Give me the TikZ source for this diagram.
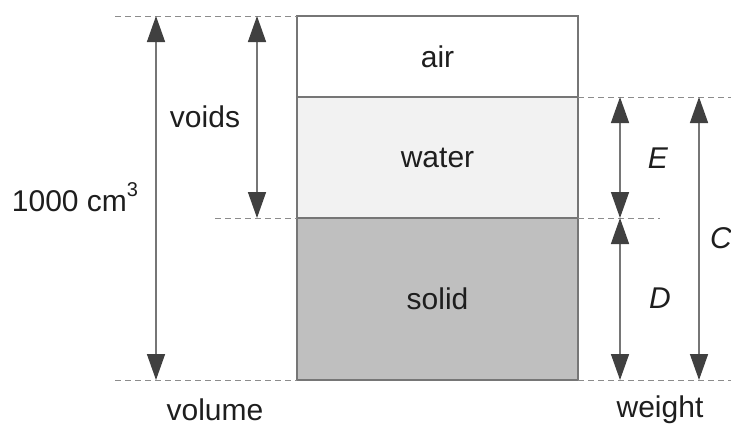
\documentclass[tikz,border=0pt]{standalone}
\usepackage{fontspec}
\setmainfont{Liberation Sans}
\usetikzlibrary{arrows.meta}
\definecolor{linegray}{HTML}{767676}
\definecolor{tipgray}{HTML}{404040}
\definecolor{dashgray}{HTML}{8C8C8C}
\definecolor{watergray}{HTML}{F2F2F2}
\definecolor{solidgray}{HTML}{BFBFBF}
\definecolor{textgray}{HTML}{1E1E1E}
\tikzset{
  tip/.tip={Triangle[length=13pt, width=9pt, color=tipgray]},
  dim/.style={linegray, line width=0.75pt, tip-tip},
  guide/.style={dashgray, line width=0.5pt, dash pattern=on 3pt off 2pt},
  layer/.style={draw=linegray, line width=0.75pt, anchor=north west,
    minimum width=140.5pt, inner sep=0pt, outer sep=0pt, text=textgray},
  label/.style={text=textgray},
}
\begin{document}
\begin{tikzpicture}[x=0.5pt, y=-0.5pt, font=\fontsize{15}{18}\selectfont]
    \useasboundingbox (0,0) rectangle (731,425);
    % soil layers
    \node[layer, minimum height=40.5pt] (air) at (297,16) {air};
    \node[layer, minimum height=60.5pt, fill=watergray] (water) at (air.south west) {water};
    \node[layer, minimum height=81pt, fill=solidgray] (solid) at (water.south west) {solid};
    % x positions of the dimension lines
    \coordinate (vx) at (156,0);
    \coordinate (ox) at (257,0);
    \coordinate (ex) at (620,0);
    \coordinate (cx) at (699,0);
    % dashed guides
    \draw[guide] (115,16) -- (air.north west);
    \draw[guide] (215,218) -- (solid.north west);
    \draw[guide] (115,380) -- (solid.south west);
    \draw[guide] (water.north east) -- (731,97);
    \draw[guide] (solid.north east) -- (660,218);
    \draw[guide] (solid.south east) -- (731,380);
    % volume side
    \draw[dim] (air.north west -| vx) -- (solid.south west -| vx);
    \draw[dim] (air.north west -| ox) -- (solid.north west -| ox);
    % weight side
    \draw[dim] (water.north east -| ex) -- (solid.north east -| ex);
    \draw[dim] (solid.north east -| ex) -- (solid.south east -| ex);
    \draw[dim] (water.north east -| cx) -- (solid.south east -| cx);
    % labels
    \node[label] (total) at (75,197) {1000 cm\raisebox{0.5em}{\fontsize{10}{10}\selectfont 3}};
    \node[label] (voids) at (205,117) {voids};
    \node[label] (E) at (658,158) {\textit{E}};
    \node[label] (D) at (660,298) {\textit{D}};
    \node[label] (C) at (721,238) {\textit{C}};
    \node[label] (volume) at (215,410) {volume};
    \node[label] (weight) at (660,410) {weight};
\end{tikzpicture}
\end{document}
